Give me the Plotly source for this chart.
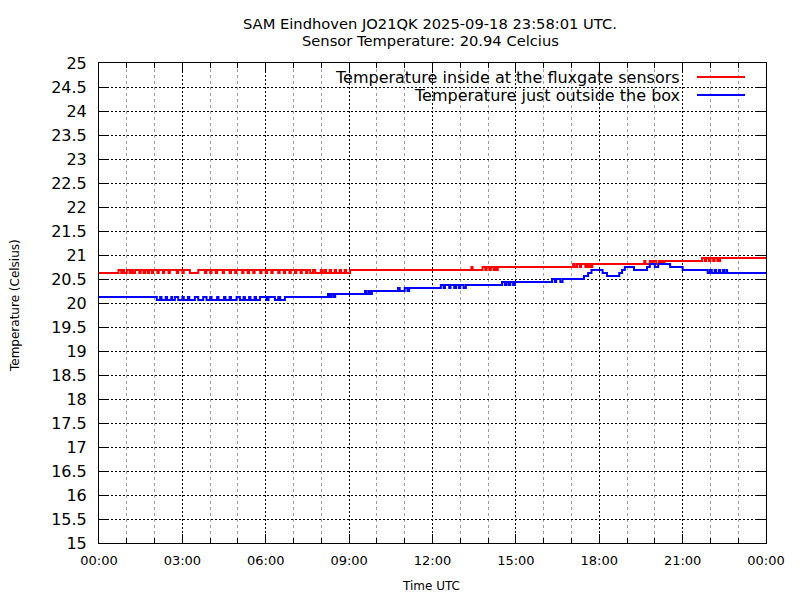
import pandas as pd
import plotly.graph_objects as go

day = pd.Timestamp("2025-09-18")

# hours after 00:00 UTC at which the resting level changes, and that level
red_level_h = [0.0, 9.03, 14.45, 17.75, 20.35, 22.35]
red_level_v = [20.625, 20.6875, 20.75, 20.8125, 20.875, 20.9375]

# short excursions away from the level: (start h, end h, value)
red_spikes = [
    (0.70, 0.80, 20.6875), (0.85, 0.90, 20.6875), (1.00, 1.10, 20.6875),
    (1.15, 1.22, 20.6875), (1.30, 1.45, 20.6875), (1.50, 1.60, 20.6875),
    (1.66, 1.75, 20.6875), (1.80, 1.90, 20.6875), (1.95, 2.10, 20.6875),
    (2.15, 2.30, 20.6875), (2.35, 2.50, 20.6875), (2.55, 2.80, 20.6875),
    (2.85, 3.00, 20.6875), (3.05, 3.27, 20.6875), (3.57, 3.81, 20.6875),
    (3.86, 4.00, 20.6875), (4.05, 4.20, 20.6875), (4.25, 4.45, 20.6875),
    (4.50, 4.70, 20.6875), (4.75, 4.90, 20.6875), (4.95, 5.15, 20.6875),
    (5.20, 5.35, 20.6875), (5.40, 5.55, 20.6875), (5.60, 5.80, 20.6875),
    (5.85, 6.00, 20.6875), (6.05, 6.20, 20.6875), (6.25, 6.45, 20.6875),
    (6.50, 6.65, 20.6875), (6.70, 6.85, 20.6875), (6.90, 7.05, 20.6875),
    (7.10, 7.25, 20.6875), (7.30, 7.45, 20.6875), (7.50, 7.60, 20.6875),
    (7.70, 7.78, 20.6875), (7.98, 8.04, 20.6875), (8.12, 8.17, 20.6875),
    (8.30, 8.35, 20.6875), (8.48, 8.53, 20.6875), (8.66, 8.71, 20.6875),
    (8.84, 8.89, 20.6875),
    (13.40, 13.44, 20.75), (13.80, 13.90, 20.75), (13.95, 14.05, 20.75),
    (14.10, 14.20, 20.75), (14.25, 14.30, 20.75), (14.35, 14.45, 20.75),
    (17.06, 17.12, 20.8125), (17.20, 17.30, 20.8125), (17.35, 17.50, 20.8125),
    (17.55, 17.62, 20.8125), (17.66, 17.72, 20.8125),
    (19.62, 19.66, 20.875), (19.82, 19.90, 20.875), (19.95, 20.05, 20.875),
    (20.15, 20.22, 20.875), (20.26, 20.32, 20.875),
    (21.70, 21.80, 20.9375), (21.85, 21.95, 20.9375), (22.00, 22.10, 20.9375),
    (22.15, 22.25, 20.9375), (22.28, 22.33, 20.9375),
]

blue_level_h = [0.0, 8.50, 9.82, 11.00, 12.85, 14.80, 16.45, 17.45, 17.60,
                17.72, 18.12, 18.28, 18.72, 18.82, 18.92, 19.25, 19.72, 19.82,
                20.00, 20.12, 20.55, 21.00, 22.60]
blue_level_v = [20.125, 20.1875, 20.25, 20.3125, 20.375, 20.4375, 20.5,
                20.5625, 20.625, 20.6875, 20.625, 20.5625, 20.625, 20.6875,
                20.75, 20.6875, 20.75, 20.8125, 20.75, 20.8125, 20.75,
                20.6875, 20.625]

blue_spikes = [
    (2.08, 2.20, 20.0625), (2.25, 2.40, 20.0625), (2.45, 2.60, 20.0625),
    (2.63, 2.73, 20.0625), (2.85, 3.00, 20.0625), (3.05, 3.20, 20.0625),
    (3.25, 3.45, 20.0625), (3.57, 3.75, 20.0625), (3.87, 4.00, 20.0625),
    (4.05, 4.25, 20.0625), (4.30, 4.50, 20.0625), (4.55, 4.70, 20.0625),
    (4.75, 4.95, 20.0625), (5.07, 5.20, 20.0625), (5.25, 5.40, 20.0625),
    (5.45, 5.60, 20.0625), (5.65, 5.79, 20.0625), (6.03, 6.10, 20.0625),
    (6.33, 6.45, 20.0625), (6.52, 6.69, 20.0625),
    (8.24, 8.30, 20.1875), (8.36, 8.44, 20.1875),
    (9.57, 9.62, 20.25), (9.70, 9.75, 20.25),
    (10.76, 10.82, 20.3125), (11.10, 11.16, 20.25),
    (12.30, 12.40, 20.375), (12.45, 12.60, 20.375), (12.65, 12.78, 20.375),
    (12.95, 13.00, 20.3125), (13.12, 13.20, 20.3125),
    (14.50, 14.60, 20.4375), (14.66, 14.74, 20.4375), (14.90, 14.96, 20.375),
    (16.30, 16.40, 20.5), (16.60, 16.68, 20.4375),
    (21.90, 21.98, 20.625), (22.05, 22.15, 20.625), (22.20, 22.30, 20.625),
    (22.35, 22.45, 20.625), (22.50, 22.58, 20.625),
]

title_lines = ["SAM Eindhoven JO21QK 2025-09-18 23:58:01 UTC.",
               "Sensor Temperature: 20.94 Celcius"]
legend_names = ["Temperature inside at the fluxgate sensors",
                "Temperature just outside the box"]
line_colors = ["#ff0000", "#0000ff"]


def step_series(level_h, level_v, spikes):
    cuts = sorted(set(level_h + [s[0] for s in spikes] + [s[1] for s in spikes] + [24.0]))
    vals = []
    for t in cuts:
        v = level_v[max(i for i, h in enumerate(level_h) if h <= t)]
        for a, b, sv in spikes:
            if a <= t < b:
                v = sv
        vals.append(v)
    x = [day + pd.Timedelta(hours=t) for t in cuts]
    return x, vals


font = "DejaVu Sans, Verdana, sans-serif"
# the page body adds an 8px offset, so margins are trimmed by that much
OFF = 8
PL, PR, PT, PB = 99, 766, 63, 543   # plot box wanted on screen
L, T = PL - OFF, PT - OFF
R, B = 800 - L - (PR - PL), 600 - T - (PB - PT)


def px(x):
    return (x - PL) / (PR - PL)


def py(y):
    return (PB - y) / (PB - PT)


fig = go.Figure()
for (lh, lv, sp), name, col in zip(
        [(red_level_h, red_level_v, red_spikes), (blue_level_h, blue_level_v, blue_spikes)],
        legend_names, line_colors):
    x, y = step_series(lh, lv, sp)
    fig.add_trace(go.Scatter(x=x, y=y, mode="lines", name=name, showlegend=False,
                             line=dict(color=col, width=2, shape="hv")))

# opaque key in the upper right, text left of the sample line
fig.add_shape(type="rect", xref="paper", yref="paper", layer="between",
              x0=px(222), x1=1, y0=py(103), y1=1,
              fillcolor="white", line=dict(width=0))
for i, (name, col) in enumerate(zip(legend_names, line_colors)):
    yy = 77 + 18 * i
    fig.add_annotation(text=name, xref="paper", yref="paper", x=px(682), y=py(yy),
                       xanchor="right", yanchor="middle", showarrow=False,
                       font=dict(size=16, color="black", family=font))
    fig.add_shape(type="line", xref="paper", yref="paper",
                  x0=px(697), x1=px(745), y0=py(yy), y1=py(yy),
                  line=dict(color=col, width=2))

for i, line in enumerate(title_lines):
    fig.add_annotation(text=line, xref="paper", yref="paper",
                       x=px(430), y=py(24 + 16 * i), xanchor="center", yanchor="middle",
                       showarrow=False, font=dict(size=14.7, color="black", family=font))

fig.add_annotation(text="Temperature (Celsius)", xref="paper", yref="paper",
                   x=px(15), y=py(306), textangle=-90, showarrow=False,
                   xanchor="center", yanchor="middle",
                   font=dict(size=12, color="black", family=font))
fig.add_annotation(text="Time UTC", xref="paper", yref="paper",
                   x=px(431), y=py(586), showarrow=False,
                   xanchor="center", yanchor="middle",
                   font=dict(size=12, color="black", family=font))

fig.update_layout(
    width=800, height=600,
    margin=dict(l=L, r=R, t=T, b=B),
    paper_bgcolor="white", plot_bgcolor="white",
    font=dict(family=font, color="black"),
    xaxis=dict(type="date", range=[day, day + pd.Timedelta(hours=24)],
               dtick=3 * 3600 * 1000, tickformat="%H:%M",
               ticks="inside", ticklen=9, tickcolor="black",
               showline=True, linecolor="black", linewidth=1, mirror="allticks",
               showgrid=True, gridcolor="black", gridwidth=1, griddash="2px,2px",
               zeroline=False, tickfont=dict(size=13), ticklabelstandoff=5,
               minor=dict(dtick=3600 * 1000, ticks="inside", ticklen=5, tickcolor="black",
                          showgrid=True, gridcolor="#a0a0a0", gridwidth=1,
                          griddash="3px,3px")),
    yaxis=dict(range=[15, 25], dtick=0.5,
               ticks="inside", ticklen=9, tickcolor="black",
               showline=True, linecolor="black", linewidth=1, mirror="allticks",
               showgrid=True, gridcolor="black", gridwidth=1, griddash="2px,2px",
               zeroline=False, tickfont=dict(size=16), ticklabelstandoff=8),
)

fig.write_html("out.html")
